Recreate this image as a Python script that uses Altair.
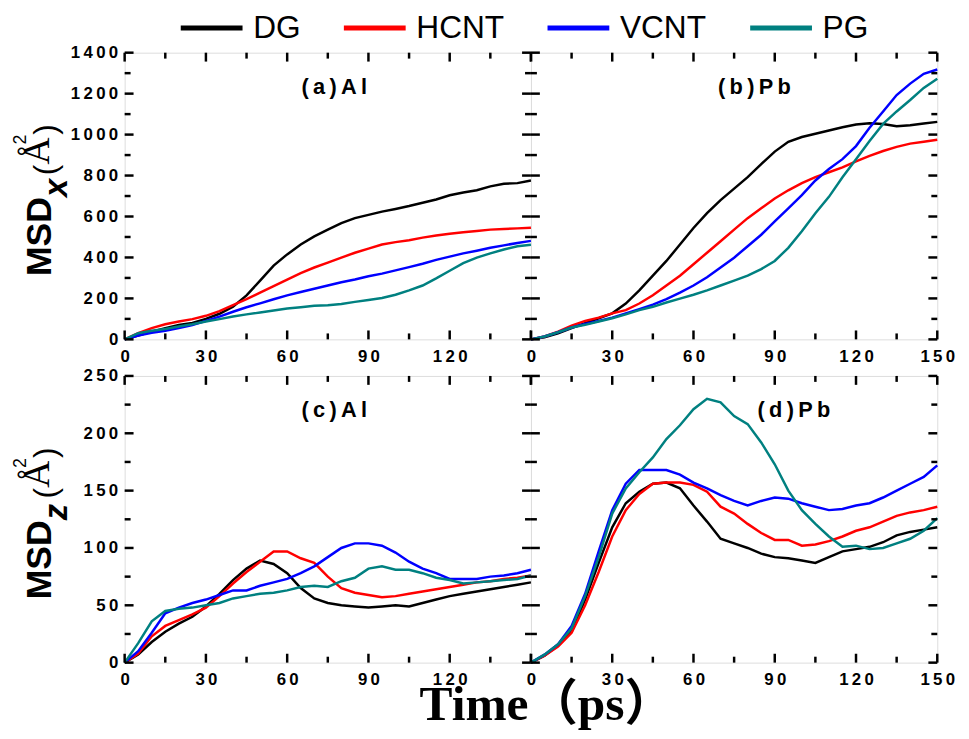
import altair as alt
import pandas as pd

time = list(range(0, 151, 5))
series = ["DG", "HCNT", "VCNT", "PG"]
colors = ["#000000", "#ff0000", "#0000ff", "#008080"]

# (a) Al, MSD_x
a_DG = [0, 18, 38, 55, 70, 80, 100, 125, 160, 215, 287, 360, 415, 463, 503, 536, 568, 592, 608, 624, 637, 651, 667, 683, 704, 717, 728, 747, 760, 763, 776]
a_HCNT = [0, 30, 55, 74, 87, 99, 115, 138, 167, 196, 228, 260, 292, 324, 351, 375, 399, 423, 443, 463, 475, 484, 497, 507, 516, 523, 529, 536, 539, 542, 545]
a_VCNT = [0, 19, 32, 42, 55, 70, 90, 111, 135, 157, 176, 196, 215, 231, 247, 263, 279, 292, 308, 321, 337, 353, 369, 388, 404, 420, 433, 447, 459, 471, 481]
a_PG = [0, 30, 42, 51, 63, 74, 87, 99, 112, 122, 131, 141, 151, 157, 164, 167, 173, 183, 192, 202, 218, 239, 263, 298, 335, 372, 399, 420, 439, 455, 462]

# (b) Pb, MSD_x
b_DG = [0, 10, 30, 55, 79, 103, 127, 175, 239, 311, 383, 463, 544, 616, 680, 736, 792, 856, 917, 965, 988, 1004, 1020, 1036, 1049, 1055, 1052, 1041, 1046, 1054, 1062]
b_HCNT = [0, 14, 38, 67, 90, 106, 127, 143, 175, 215, 263, 311, 367, 423, 479, 536, 592, 640, 688, 728, 763, 792, 816, 840, 869, 896, 920, 940, 956, 965, 975]
b_VCNT = [0, 14, 35, 58, 75, 90, 106, 127, 148, 170, 196, 228, 263, 303, 351, 399, 455, 511, 576, 640, 704, 776, 832, 880, 944, 1033, 1113, 1193, 1249, 1297, 1318]
b_PG = [0, 14, 35, 58, 71, 87, 103, 122, 143, 159, 180, 199, 218, 239, 263, 287, 311, 343, 383, 447, 528, 616, 696, 792, 880, 969, 1052, 1113, 1169, 1228, 1273]

# (c) Al, MSD_z
c_DG = [0, 7, 18, 27, 34, 40, 49, 60, 72, 82, 89, 86, 78, 65, 56, 52, 50, 49, 48, 49, 50, 49, 52, 55, 58, 60, 62, 64, 66, 68, 70]
c_HCNT = [0, 8, 23, 32, 37, 42, 48, 58, 69, 79, 88, 97, 97, 91, 87, 75, 65, 61, 59, 57, 58, 60, 62, 64, 66, 68, 70, 71, 73, 74, 76]
c_VCNT = [0, 10, 26, 43, 48, 52, 55, 59, 63, 63, 67, 70, 73, 78, 84, 92, 100, 104, 104, 102, 96, 88, 82, 78, 73, 73, 73, 75, 76, 78, 81]
c_PG = [0, 17, 36, 45, 47, 48, 50, 52, 56, 58, 60, 61, 63, 66, 67, 66, 71, 74, 82, 84, 81, 81, 78, 74, 72, 69, 70, 71, 72, 73, 76]

# (d) Pb, MSD_z
d_DG = [0, 6, 15, 27, 55, 87, 118, 139, 149, 156, 157, 152, 137, 123, 108, 104, 100, 95, 92, 91, 89, 87, 92, 97, 99, 101, 105, 111, 114, 116, 118]
d_HCNT = [0, 6, 14, 26, 50, 79, 110, 133, 147, 156, 157, 157, 155, 149, 136, 130, 121, 113, 107, 107, 102, 103, 106, 110, 115, 118, 123, 128, 131, 133, 136]
d_VCNT = [0, 7, 16, 32, 60, 97, 133, 156, 168, 168, 168, 164, 157, 152, 146, 141, 137, 141, 144, 143, 139, 136, 133, 134, 137, 139, 144, 150, 156, 162, 172]
d_PG = [0, 7, 16, 30, 58, 92, 130, 152, 166, 179, 195, 207, 221, 230, 227, 215, 208, 192, 173, 150, 133, 121, 110, 101, 102, 99, 100, 104, 108, 115, 126]

panel_titles = ["(a)Al", "(b)Pb", "(c)Al", "(d)Pb"]
x_title = "Time（ps）"
x_major = [0, 30, 60, 90, 120, 150]
x_minor = [15, 45, 75, 105, 135]
x_labels_left = [0, 30, 60, 90, 120]
x_labels_right = [0, 30, 60, 90, 120, 150]
y_top_major = [0, 200, 400, 600, 800, 1000, 1200, 1400]
y_top_minor = [100, 300, 500, 700, 900, 1100, 1300]
y_bot_major = [0, 50, 100, 150, 200, 250]
y_bot_minor = [25, 75, 125, 175, 225]

W = 411
H = 290
XMAX = 150
SANS = "Liberation Sans"
SERIF = "Liberation Serif"
THIN = "\u2009"
LEXPR = "join(split(toString(datum.value), ''), '" + THIN + "')"
MAJ = 9
MIN = 6

LEG = alt.Legend(
    orient="none", legendX=72, legendY=-41, direction="horizontal", title=None,
    symbolType="M-2.5,0H2.5", symbolSize=625, symbolStrokeWidth=5,
    labelFont=SANS, labelFontSize=32, labelColor="black", labelOffset=26,
    columnPadding=33, padding=0, labelLimit=400,
)


def text_layer(txt, x, y, font=SANS, size=22, weight="bold", style="normal",
               angle=0, align="center", baseline="alphabetic"):
    d = pd.DataFrame({"label": [txt]})
    return alt.Chart(d).mark_text(
        font=font, fontSize=size, fontWeight=weight, fontStyle=style,
        angle=angle, align=align, baseline=baseline, color="black",
    ).encode(text="label:N", x=alt.value(x), y=alt.value(y))


def ytitle(sub, cy):
    return [
        text_layer("MSD", -75, cy + 81, SANS, 36, "bold", "normal", 270, "left"),
        text_layer(sub, -58, cy + 1, SANS, 33, "bold", "italic", 270, "left"),
        text_layer("(", -69, cy - 21, SANS, 32, "normal", "normal", 270, "left"),
        text_layer("Å", -77, cy - 32, SERIF, 38, "normal", "normal", 270, "left"),
        text_layer("2", -100, cy - 52, SANS, 18, "normal", "normal", 270, "left"),
        text_layer(")", -69, cy - 62, SANS, 32, "normal", "normal", 270, "left"),
    ]


def panel(vals, ymax, ymaj, ymin, title, title_x, left, xlabels, sub=None, xt=False):
    rows = []
    for s, v in zip(series, vals):
        for tt, vv in zip(time, v):
            rows.append({"t": tt, "v": vv, "s": s})
    df = pd.DataFrame(rows)
    xs = alt.Scale(domain=[0, XMAX], nice=False, zero=False)
    ys = alt.Scale(domain=[0, ymax], nice=False, zero=False)
    xaxis = alt.Axis(values=xlabels, title=None, ticks=False, tickSize=0, domain=False, grid=False,
                     labelFont=SANS, labelFontWeight="bold", labelFontSize=17, labelPadding=9,
                     labelFlush=False, labelExpr=LEXPR, labelColor="black", labelOverlap=False)
    if left:
        yaxis = alt.Axis(values=ymaj, title=None, ticks=False, tickSize=0, domain=False, grid=False,
                         labelFont=SANS, labelFontWeight="bold", labelFontSize=17, labelPadding=7,
                         labelFlush=False, labelExpr=LEXPR, labelColor="black", labelOverlap=False)
    else:
        yaxis = None

    # inward tick marks as short line segments, placed through the panel scales
    recs = []
    k = 0
    for tv, L in ((x_major, MAJ), (x_minor, MIN)):
        d = ymax * L / H
        for v in tv:
            for y0, y1 in ((0.0, d), (float(ymax), ymax - d)):
                recs.append({"k": k, "t": v, "v": y0})
                recs.append({"k": k, "t": v, "v": y1})
                k += 1
    for tv, L in ((ymaj, MAJ), (ymin, MIN)):
        d = XMAX * L / W
        for v in tv:
            for x0, x1 in ((0.0, d), (float(XMAX), XMAX - d)):
                recs.append({"k": k, "t": x0, "v": v})
                recs.append({"k": k, "t": x1, "v": v})
                k += 1
    ticks = alt.Chart(pd.DataFrame(recs)).mark_line(color="black", strokeWidth=2.5, strokeCap="butt").encode(
        x=alt.X("t:Q", scale=xs, axis=xaxis),
        y=alt.Y("v:Q", scale=ys, axis=yaxis),
        detail="k:N",
    )

    lines = alt.Chart(df).mark_line(strokeWidth=2.5).encode(
        x=alt.X("t:Q", scale=xs, axis=xaxis),
        y=alt.Y("v:Q", scale=ys, axis=yaxis),
        color=alt.Color("s:N", scale=alt.Scale(domain=series, range=colors), legend=LEG),
    )
    layers = [lines, ticks, text_layer(THIN.join(title), title_x, 42)]
    if sub is not None:
        layers.extend(ytitle(sub, H / 2))
    if xt:
        layers.append(text_layer(x_title, 427, H + 58, SERIF + ", Noto Sans CJK SC", 50, "bold"))
    return alt.layer(*layers).properties(width=W, height=H)


pa = panel([a_DG, a_HCNT, a_VCNT, a_PG], 1400, y_top_major, y_top_minor, panel_titles[0], 212, True, x_labels_left, sub="x")
pb = panel([b_DG, b_HCNT, b_VCNT, b_PG], 1400, y_top_major, y_top_minor, panel_titles[1], 226, False, x_labels_right)
pc = panel([c_DG, c_HCNT, c_VCNT, c_PG], 250, y_bot_major, y_bot_minor, panel_titles[2], 212, True, x_labels_left, sub="z", xt=True)
pd_ = panel([d_DG, d_HCNT, d_VCNT, d_PG], 250, y_bot_major, y_bot_minor, panel_titles[3], 266, False, x_labels_right)

chart = alt.concat(
    pa, pb, pc, pd_, columns=2,
    spacing=alt.RowColnumber(row=37, column=0), bounds="flush",
).properties(
    padding={"left": 3, "top": 0, "right": 5, "bottom": 0},
).configure_view(stroke="black", strokeWidth=2).configure(background="white")

chart.save("out.html", embed_options={"renderer": "svg", "actions": False})
